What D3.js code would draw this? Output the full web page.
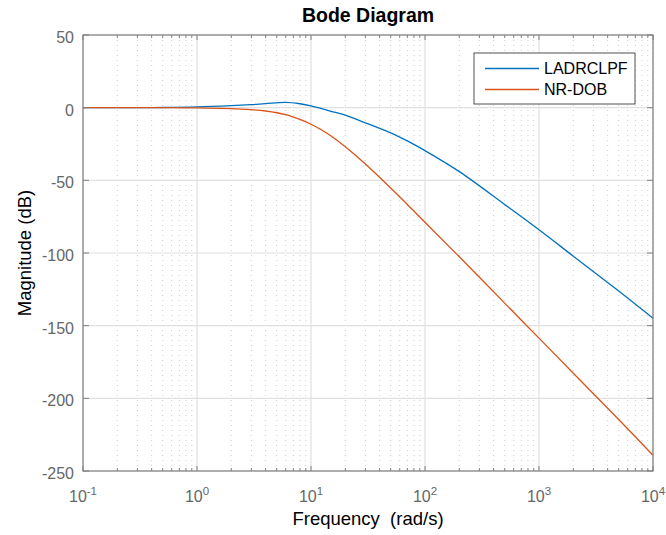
<!DOCTYPE html>
<html>
<head>
<meta charset="utf-8">
<style>
body { margin: 0; background: #fff; }
text { font-family: "Liberation Sans", Arial, sans-serif; }
</style>
</head>
<body>
<script src="https://cdn.jsdelivr.net/npm/d3@7"></script>
<script>

// values
var freqs  = [0.1, 0.3, 0.5, 1, 2, 3, 4, 6, 8, 10, 12, 15, 20, 30, 50, 70, 100, 200, 500, 1000, 2000, 5000, 10000];
var ladrc  = [0, 0, 0.1, 0.5, 1.4, 2.1, 2.8, 3.6, 2.7, 1.3, -0.4, -2.5, -5.2, -10.4, -17.3, -22.9, -29.6, -44.0, -66.6, -84.0, -102.2, -126.2, -144.9];
var nrdob  = [0, 0, 0, -0.2, -0.6, -1.4, -2.3, -4.8, -8.1, -11.4, -14.7, -19.5, -26.9, -38.8, -55.3, -66.6, -78.8, -102.6, -134.5, -158.6, -182.7, -214.6, -239.2];
var yTicks = [50, 0, -50, -100, -150, -200, -250];
var xTicks = [0.1, 1, 10, 100, 1000, 10000];
var exps   = ["-1", "0", "1", "2", "3", "4"];
var names  = ["LADRCLPF", "NR-DOB"];
var colors = ["#0072BD", "#D95319"];

var W = 666, H = 535;
var m = {l: 83, r: 13, t: 35, b: 64};
var w = W - m.l - m.r, h = H - m.t - m.b;

var svg = d3.select("body").append("svg").attr("width", W).attr("height", H);
var g = svg.append("g").attr("transform", "translate(" + m.l + "," + m.t + ")");

var x = d3.scaleLog().domain([0.1, 10000]).range([0, w]);
var y = d3.scaleLinear().domain([-250, 50]).range([h, 0]);

// minor ticks
var minor = [];
for (var d = 0; d < 5; d++) {
  for (var k = 2; k <= 9; k++) minor.push(k * xTicks[d]);
}

// minor grid (dotted)
g.selectAll(".mg").data(minor).enter().append("line")
  .attr("x1", function(d) { return x(d); }).attr("x2", function(d) { return x(d); })
  .attr("y1", 0).attr("y2", h)
  .attr("stroke", "#cfcfcf").attr("stroke-width", 1).attr("stroke-dasharray", "1,4");

// major grid
g.selectAll(".gx").data(xTicks).enter().append("line")
  .attr("x1", function(d) { return x(d); }).attr("x2", function(d) { return x(d); })
  .attr("y1", 0).attr("y2", h)
  .attr("stroke", "#e0e0e0").attr("stroke-width", 1.2);
g.selectAll(".gy").data(yTicks).enter().append("line")
  .attr("y1", function(d) { return y(d); }).attr("y2", function(d) { return y(d); })
  .attr("x1", 0).attr("x2", w)
  .attr("stroke", "#e0e0e0").attr("stroke-width", 1.2);

// curves
var line = d3.line()
  .x(function(d) { return x(d[0]); })
  .y(function(d) { return y(d[1]); })
  .curve(d3.curveCatmullRom.alpha(0.5));

[ladrc, nrdob].forEach(function(s, i) {
  g.append("path")
    .datum(freqs.map(function(f, j) { return [f, s[j]]; }))
    .attr("fill", "none")
    .attr("stroke", colors[i])
    .attr("stroke-width", 1.3)
    .attr("d", line);
});

// axes box + ticks
var ax = "#808080";
g.append("rect").attr("width", w).attr("height", h)
  .attr("fill", "none").attr("stroke", ax).attr("stroke-width", 1.2);

[0, h].forEach(function(yy) {
  var dir = yy === 0 ? 1 : -1;
  g.selectAll(null).data(xTicks).enter().append("line")
    .attr("x1", function(d) { return x(d); }).attr("x2", function(d) { return x(d); })
    .attr("y1", yy).attr("y2", yy + dir * 5)
    .attr("stroke", ax);
  g.selectAll(null).data(minor).enter().append("line")
    .attr("x1", function(d) { return x(d); }).attr("x2", function(d) { return x(d); })
    .attr("y1", yy).attr("y2", yy + dir * 3)
    .attr("stroke", ax);
});
[0, w].forEach(function(xx) {
  var dir = xx === 0 ? 1 : -1;
  g.selectAll(null).data(yTicks).enter().append("line")
    .attr("y1", function(d) { return y(d); }).attr("y2", function(d) { return y(d); })
    .attr("x1", xx).attr("x2", xx + dir * 6)
    .attr("stroke", ax);
});

// tick labels
var lab = "#666666";
g.selectAll(".yl").data(yTicks).enter().append("text")
  .attr("x", -9).attr("y", function(d) { return y(d) + 8; })
  .attr("text-anchor", "end").attr("font-size", 16).attr("fill", lab)
  .text(function(d) { return d; });

var xl = g.selectAll(".xl").data(xTicks).enter().append("text")
  .attr("x", function(d) { return x(d); }).attr("y", h + 31)
  .attr("text-anchor", "middle").attr("font-size", 16).attr("fill", lab);
xl.append("tspan").text("10");
xl.append("tspan").attr("dy", -7).attr("font-size", 11.5)
  .text(function(d, i) { return exps[i]; });

// titles
svg.append("text").attr("x", m.l + w / 2).attr("y", 22)
  .attr("text-anchor", "middle").attr("font-size", 19.5).attr("font-weight", "bold")
  .attr("fill", "#000").text("Bode Diagram");
svg.append("text").attr("x", m.l + w / 2).attr("y", 525)
  .attr("text-anchor", "middle").attr("font-size", 18.5).attr("fill", "#000")
  .attr("xml:space", "preserve").text("Frequency  (rad/s)");
svg.append("text").attr("transform", "translate(31," + (m.t + h / 2) + ") rotate(-90)")
  .attr("text-anchor", "middle").attr("font-size", 18.5).attr("fill", "#000")
  .text("Magnitude (dB)");

// legend
var lg = svg.append("g").attr("transform", "translate(474,53)");
lg.append("rect").attr("width", 161).attr("height", 51)
  .attr("fill", "#fff").attr("stroke", "#262626").attr("stroke-width", 0.8);
names.forEach(function(n, i) {
  var yy = 15.5 + i * 21;
  lg.append("line").attr("x1", 11).attr("x2", 65).attr("y1", yy).attr("y2", yy)
    .attr("stroke", colors[i]).attr("stroke-width", 1.3);
  lg.append("text").attr("x", 70).attr("y", yy + 5.5)
    .attr("font-size", 16).attr("fill", "#000").text(n);
});

</script>
</body>
</html>
